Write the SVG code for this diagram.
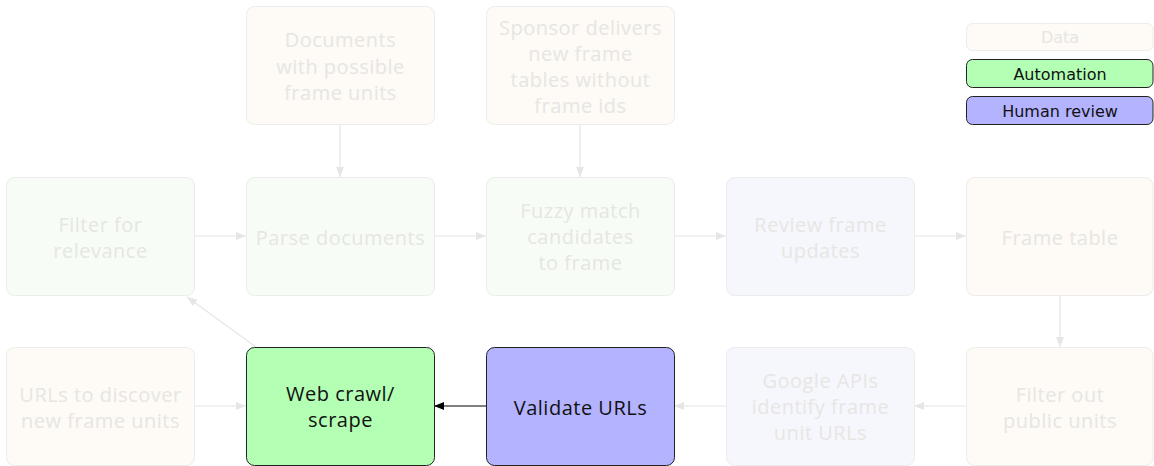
<svg xmlns="http://www.w3.org/2000/svg" width="1154" height="466" viewBox="0 0 1154 466">
  <style>
    .node rect { stroke-width: 1; }
    .data rect { fill: #fefaf5; stroke: #ececec; }
    .auto rect { fill: #f7fdf6; stroke: #ececec; }
    .human rect { fill: #f6f6fd; stroke: #ececec; }
    .faded text { fill: #e6e6e3; }
    .auto-on rect { fill: #b3ffb3; stroke: #222; }
    .human-on rect { fill: #b3b3ff; stroke: #222; }
    .on text { fill: #111; }
    text { font-family: "Open Sans", "Noto Sans", sans-serif; font-size: 20px; letter-spacing: 0.5px; text-anchor: middle; }
    .legend text { font-family: "DejaVu Sans", sans-serif; font-size: 16px; letter-spacing: 0; }
    .edge { stroke: #e6e6e6; stroke-width: 1.2; fill: none; marker-end: url(#ah); }
    .edge-on { stroke: #000; stroke-width: 1.2; fill: none; marker-end: url(#ahOn); }
  </style>
  <defs>
    <marker id="ah" viewBox="0 0 10 8" refX="10" refY="4" markerWidth="10" markerHeight="8" markerUnits="userSpaceOnUse" orient="auto">
      <path d="M0,0 L10,4 L0,8 Z" fill="#e6e6e6"/>
    </marker>
    <marker id="ahOn" viewBox="0 0 10 8" refX="10" refY="4" markerWidth="10" markerHeight="8" markerUnits="userSpaceOnUse" orient="auto">
      <path d="M0,0 L10,4 L0,8 Z" fill="#000"/>
    </marker>
  </defs>
  <rect width="1154" height="466" fill="#fff"/>

  <g id="connectors">
    <path class="edge" d="M340,125 V177"/>
    <path class="edge" d="M580,125 V177"/>
    <path class="edge" d="M194,236 H246"/>
    <path class="edge" d="M434,236 H486"/>
    <path class="edge" d="M674,236 H726"/>
    <path class="edge" d="M914,236 H966"/>
    <path class="edge" d="M1060,295 V347"/>
    <path class="edge" d="M966,406 H914"/>
    <path class="edge" d="M726,406 H674"/>
    <path class="edge" d="M194,406 H246"/>
    <path class="edge" d="M256,347 L187,297"/>
    <path class="edge-on" d="M486,406 H434"/>
  </g>

  <g id="documents" class="node data faded">
    <rect x="246.5" y="6.5" width="188" height="118" rx="8"/>
    <text><tspan x="340.5" y="47">Documents</tspan><tspan x="340.5" y="73.5">with possible</tspan><tspan x="340.5" y="100">frame units</tspan></text>
  </g>
  <g id="sponsor" class="node data faded">
    <rect x="486.5" y="6.5" width="188" height="118" rx="8"/>
    <text><tspan x="580.5" y="35">Sponsor delivers</tspan><tspan x="580.5" y="61">new frame</tspan><tspan x="580.5" y="87">tables without</tspan><tspan x="580.5" y="113">frame ids</tspan></text>
  </g>

  <g id="filter-relevance" class="node auto faded">
    <rect x="6.5" y="177.5" width="188" height="118" rx="8"/>
    <text><tspan x="100.5" y="232">Filter for</tspan><tspan x="100.5" y="258">relevance</tspan></text>
  </g>
  <g id="parse" class="node auto faded">
    <rect x="246.5" y="177.5" width="188" height="118" rx="8"/>
    <text x="340.5" y="245">Parse documents</text>
  </g>
  <g id="fuzzy" class="node auto faded">
    <rect x="486.5" y="177.5" width="188" height="118" rx="8"/>
    <text><tspan x="580.5" y="218">Fuzzy match</tspan><tspan x="580.5" y="244">candidates</tspan><tspan x="580.5" y="270">to frame</tspan></text>
  </g>
  <g id="review" class="node human faded">
    <rect x="726.5" y="177.5" width="188" height="118" rx="8"/>
    <text><tspan x="820.5" y="232">Review frame</tspan><tspan x="820.5" y="258">updates</tspan></text>
  </g>
  <g id="frame-table" class="node data faded">
    <rect x="966.5" y="177.5" width="186.5" height="118" rx="8"/>
    <text x="1060" y="245">Frame table</text>
  </g>

  <g id="urls-discover" class="node data faded">
    <rect x="6.5" y="347.5" width="188" height="118" rx="8"/>
    <text><tspan x="100.5" y="402">URLs to discover</tspan><tspan x="100.5" y="428">new frame units</tspan></text>
  </g>
  <g id="web-crawl" class="node auto-on on">
    <rect x="246.5" y="347.5" width="188" height="118" rx="8"/>
    <text><tspan x="340.5" y="401">Web crawl/</tspan><tspan x="340.5" y="427">scrape</tspan></text>
  </g>
  <g id="validate" class="node human-on on">
    <rect x="486.5" y="347.5" width="188" height="118" rx="8"/>
    <text x="580.5" y="415">Validate URLs</text>
  </g>
  <g id="google" class="node human faded">
    <rect x="726.5" y="347.5" width="188" height="118" rx="8"/>
    <text><tspan x="820.5" y="388">Google APIs</tspan><tspan x="820.5" y="414">identify frame</tspan><tspan x="820.5" y="440">unit URLs</tspan></text>
  </g>
  <g id="filter-public" class="node data faded">
    <rect x="966.5" y="347.5" width="186.5" height="118" rx="8"/>
    <text><tspan x="1060" y="402">Filter out</tspan><tspan x="1060" y="428">public units</tspan></text>
  </g>

  <g id="legend" class="legend">
    <g id="legend-data" class="node data faded">
      <rect x="966.5" y="23.5" width="186.5" height="27" rx="6"/>
      <text x="1060" y="43">Data</text>
    </g>
    <g id="legend-automation" class="node auto-on on">
      <rect x="966.5" y="59.5" width="186.5" height="28" rx="6"/>
      <text x="1060" y="80">Automation</text>
    </g>
    <g id="legend-human" class="node human-on on">
      <rect x="966.5" y="96.5" width="186.5" height="28" rx="6"/>
      <text x="1060" y="117">Human review</text>
    </g>
  </g>
</svg>
